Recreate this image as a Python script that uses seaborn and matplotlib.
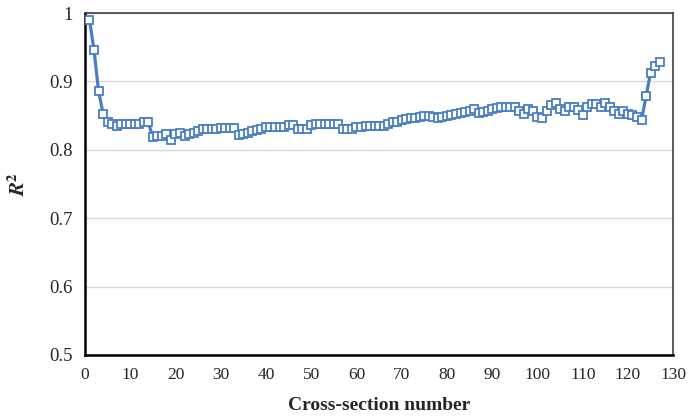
import matplotlib
matplotlib.use("Agg")
import matplotlib.pyplot as plt
import matplotlib.ticker as mticker
import numpy as np
import pandas as pd
import seaborn as sns

# Coefficient of determination for each cross-section
section = list(range(1, 128))
r2 = [
    0.990, 0.946, 0.886, 0.853, 0.840, 0.838, 0.835, 0.837, 0.837, 0.837,
    0.837, 0.837, 0.840, 0.840, 0.818, 0.820, 0.820, 0.823, 0.815, 0.823,
    0.825, 0.820, 0.823, 0.825, 0.828, 0.830, 0.830, 0.830, 0.830, 0.832,
    0.832, 0.832, 0.832, 0.821, 0.823, 0.825, 0.827, 0.829, 0.831, 0.834,
    0.834, 0.834, 0.834, 0.834, 0.836, 0.836, 0.831, 0.831, 0.831, 0.836,
    0.838, 0.838, 0.838, 0.838, 0.838, 0.838, 0.831, 0.831, 0.831, 0.834,
    0.834, 0.835, 0.835, 0.835, 0.835, 0.835, 0.838, 0.840, 0.841, 0.843,
    0.845, 0.846, 0.847, 0.848, 0.849, 0.849, 0.848, 0.847, 0.848, 0.849,
    0.851, 0.852, 0.854, 0.855, 0.857, 0.859, 0.854, 0.855, 0.857, 0.859,
    0.861, 0.862, 0.862, 0.862, 0.862, 0.856, 0.853, 0.860, 0.857, 0.848,
    0.846, 0.856, 0.865, 0.868, 0.860, 0.857, 0.862, 0.862, 0.858, 0.851,
    0.862, 0.867, 0.867, 0.862, 0.869, 0.863, 0.856, 0.853, 0.856, 0.853,
    0.851, 0.848, 0.844, 0.878, 0.913, 0.922, 0.928,
]
x_ticks = list(range(0, 131, 10))
y_ticks = [0.5, 0.6, 0.7, 0.8, 0.9, 1.0]

df = pd.DataFrame({"section": section, "r2": r2})

sns.set_theme(style="white")
plt.rcParams["font.family"] = ["Liberation Serif", "DejaVu Serif"]
plt.rcParams["mathtext.fontset"] = "stix"

fig = plt.figure(figsize=(6.88, 4.2), dpi=100)
ax = fig.add_axes([0.1235, 0.155, 0.855, 0.814])

blue = "#4A7EC4"
sns.lineplot(data=df, x="section", y="r2", ax=ax, color=blue, linewidth=2.3,
             marker="s", markersize=5.5, markerfacecolor="white",
             markeredgecolor=blue, markeredgewidth=1.3, zorder=3)

ax.set_xlim(0, 130)
ax.set_ylim(0.5, 1.0)
ax.set_xticks(x_ticks)
ax.set_yticks(y_ticks)
ax.yaxis.set_major_formatter(mticker.FuncFormatter(lambda v, p: f"{v:g}"))

ax.grid(axis="y", color="#d9d9d9", linewidth=1.0, zorder=0)
ax.grid(axis="x", visible=False)

for side in ["left", "bottom"]:
    ax.spines[side].set_color("black")
    ax.spines[side].set_linewidth(1.8)
for side in ["top", "right"]:
    ax.spines[side].set_color("#404040")
    ax.spines[side].set_linewidth(1.2)

ax.tick_params(axis="both", which="major", direction="out", length=5,
               width=1.2, color="black", pad=4)
ax.tick_params(axis="x", labelsize=12.5)
ax.tick_params(axis="y", labelsize=13.5)

ax.set_xlabel("Cross-section number", fontsize=14, fontweight="bold", labelpad=10)
ax.set_ylabel(r"$\boldsymbol{R}^{\mathbf{2}}$", fontsize=15, labelpad=14)

fig.savefig("out.png", dpi=100)
